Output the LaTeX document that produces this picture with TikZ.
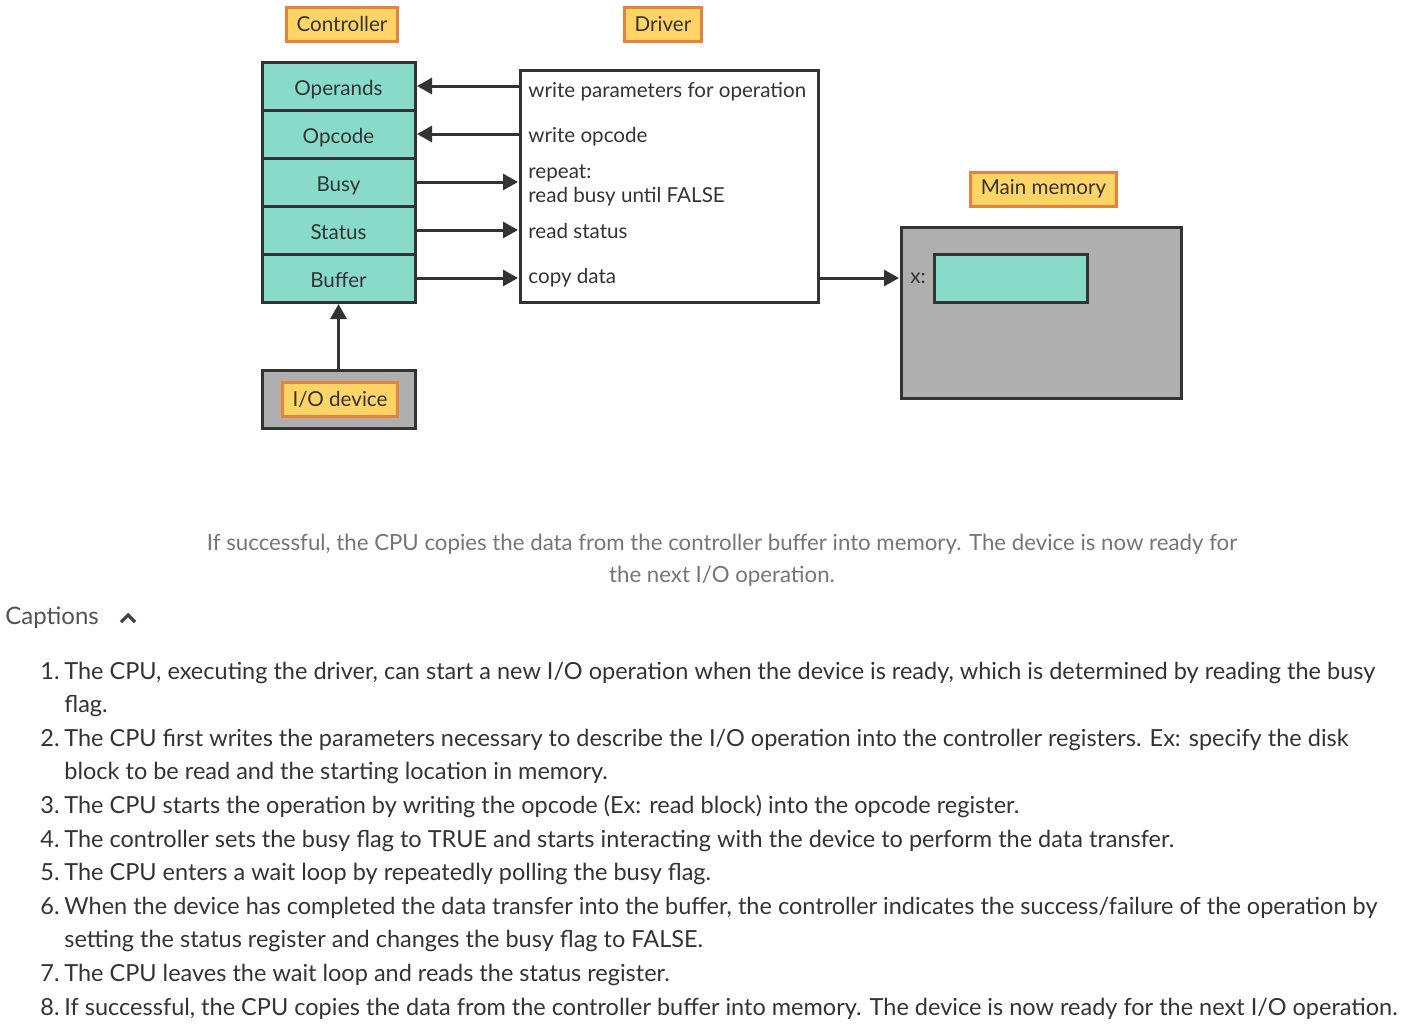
\documentclass[tikz,border=0pt]{standalone}
\usepackage{fontspec}
\setmainfont{Lato}
\usetikzlibrary{arrows.meta,positioning}

\definecolor{regfill}{HTML}{88DBC8}
\definecolor{boxgray}{HTML}{AFAFAF}
\definecolor{ink}{HTML}{333333}
\definecolor{tagfill}{HTML}{FFD466}
\definecolor{tagline}{HTML}{E5833B}
\definecolor{capgray}{HTML}{757575}
\definecolor{chevron}{HTML}{37474F}

\tikzset{
  reg/.style={draw=ink,fill=regfill,line width=1.5pt,minimum width=76.5pt,
    minimum height=24pt,inner sep=0pt,outer sep=0pt,text=ink,
    text height=9.5pt,text depth=0.5pt,font=\fontsize{10.3}{12}\selectfont},
  tag/.style={draw=tagline,fill=tagfill,line width=1.5pt,minimum height=17pt,
    inner xsep=5pt,inner ysep=0pt,text=ink,font=\fontsize{10.3}{12}\selectfont},
  frame/.style={draw=ink,line width=1.5pt,outer sep=0pt,inner sep=0pt},
  drvtext/.style={anchor=west,inner sep=0pt,text=ink,align=left,
    font=\fontsize{10.3}{12}\selectfont},
  arr/.style={draw=ink,line width=1.5pt,-{Triangle[length=7.5pt,width=8pt]},
    shorten >=1pt},
  item/.style={anchor=base west,inner sep=0pt,text=ink,align=left,
    font=\fontsize{11.75}{16.5}\selectfont}
}

\begin{document}
\begin{tikzpicture}[x=0.5pt,y=-0.5pt]
\useasboundingbox (0,0) rectangle (1416,1033);

% titles
\node[tag] (ctltag) at (342,24) {Controller};
\node[tag] (drvtag) at (663,24) {Driver};
\node[tag] (memtag) at (1043.5,189) {Main memory};

% controller registers
\node[reg] (ops) at (338.5,86) {Operands};
\node[reg,below=0pt of ops] (opc) {Opcode};
\node[reg,below=0pt of opc] (busy) {Busy};
\node[reg,below=0pt of busy] (stat) {Status};
\node[reg,below=0pt of stat] (buf) {Buffer};

% driver
\node[frame,minimum width=149pt,minimum height=116pt] (drv) at (669,186) {};
\node[drvtext] (wpar) at (528,92) {write parameters for operation};
\node[drvtext] (wopc) at (528,137) {write opcode};
\node[drvtext] (rbusy) at (528,185) {repeat:\\read busy until FALSE};
\node[drvtext] (rstat) at (528,231) {read status};
\node[drvtext] (copy) at (528,278) {copy data};

\draw[arr] (ops.east -| drv.west) -- (ops.east);
\draw[arr] (opc.east -| drv.west) -- (opc.east);
\draw[arr] (busy.east) -- (busy.east -| drv.west);
\draw[arr] (stat.east) -- (stat.east -| drv.west);
\draw[arr] (buf.east) -- (buf.east -| drv.west);

% main memory
\node[frame,fill=boxgray,minimum width=140pt,minimum height=85.5pt] (mem) at (1041,312.5) {};
\node[reg] (cell) at (1011,278) {};
\node[drvtext,anchor=center] (xlbl) at (918,278) {x:};
\draw[arr] (cell -| drv.east) -- (cell -| mem.west);

% i/o device
\node[frame,fill=boxgray,minimum width=76.5pt,minimum height=29pt] (io) at (338.5,399) {};
\node[tag] (iotag) at (340,399) {I/O device};
\draw[arr] (io.north) -- (buf.south);

% caption
\node[text=capgray,align=center,font=\fontsize{11.12}{16}\selectfont] (summary) at (722,560)
  {If successful, the CPU copies the data from the controller buffer into memory. The device is now ready for\\the next I/O operation.};
\node[anchor=west,inner sep=0pt,text=ink!85,font=\fontsize{12}{14}\selectfont] (caphead) at (5,618) {Captions};
\draw[chevron,line width=1.6pt] (121,622) -- (128,615) -- (135,622);

% list (\y = baseline of the last line, \ny = baseline of the number)
\foreach \n/\ny/\y/\txt in {
  1/679/712/{The CPU, executing the driver, can start a new I/O operation when the device is ready, which is determined by reading the busy\\flag.},
  2/746/779/{The CPU first writes the parameters necessary to describe the I/O operation into the controller registers. Ex: specify the disk\\block to be read and the starting location in memory.},
  3/813/813/{The CPU starts the operation by writing the opcode (Ex: read block) into the opcode register.},
  4/847/847/{The controller sets the busy flag to TRUE and starts interacting with the device to perform the data transfer.},
  5/880/880/{The CPU enters a wait loop by repeatedly polling the busy flag.},
  6/914/947/{When the device has completed the data transfer into the buffer, the controller indicates the success/failure of the operation by\\setting the status register and changes the busy flag to FALSE.},
  7/981/981/{The CPU leaves the wait loop and reads the status register.},
  8/1015/1015/{If successful, the CPU copies the data from the controller buffer into memory. The device is now ready for the next I/O operation.}}
{
  \node[item] (num\n) at (40,\ny) {\n.};
  \node[item] (cap\n) at (64,\y) {\txt};
}
\end{tikzpicture}
\end{document}
